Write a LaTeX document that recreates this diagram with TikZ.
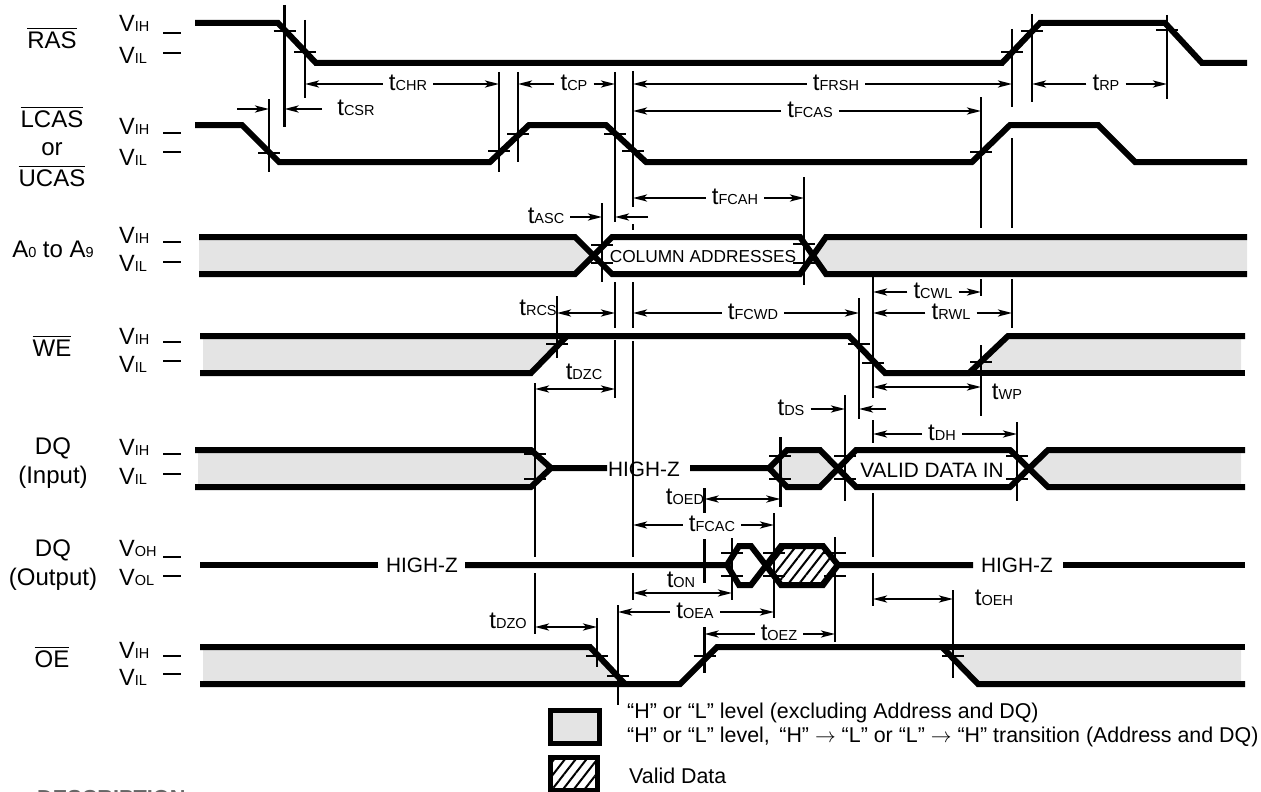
\documentclass[tikz,border=0pt]{standalone}
\usepackage{amsmath}
\usepackage{fontspec}
\setmainfont{Liberation Sans}
\usepackage{tikz}
\usetikzlibrary{arrows.meta,patterns.meta}
\definecolor{levelgray}{HTML}{E4E4E4}
\newcommand{\tmark}[2]{#1{\fontsize{14.5}{14.5}\selectfont #2}}
\newcommand{\barsig}[1]{$\overline{\mbox{#1}}$}

\begin{document}
\begin{tikzpicture}[
    x=1pt, y=-1pt,
    signal/.style={line width=6pt, miter limit=4},
    refline/.style={line width=2.7pt},
    reftick/.style={line width=2.5pt},
    leveldash/.style={line width=2.8pt},
    shade/.style={fill=levelgray, draw=none},
    hatched/.style={pattern={Lines[angle=52, distance=8.5pt, line width=2pt]}},
    sigline/.style={font=\fontsize{24}{29}\selectfont, inner sep=0pt, align=center},
    levellabel/.style={font=\fontsize{23.5}{24}\selectfont, inner sep=0pt, anchor=west},
    timelabel/.style={font=\fontsize{24}{24}\selectfont, inner xsep=6pt, inner ysep=1pt, text depth=3pt},
    statelabel/.style={font=\fontsize{20.8}{21}\selectfont, inner sep=0pt},
    legendtext/.style={font=\fontsize{21.4}{22}\selectfont, inner sep=0pt, anchor=west},
    timearrow/.style={line width=2.4pt, -{Stealth[length=14pt, width=7pt, inset=3.5pt]}},
    timeboth/.style={line width=2.4pt, {Stealth[length=14pt, width=7pt, inset=3.5pt]}-{Stealth[length=14pt, width=7pt, inset=3.5pt]}}
]
    \useasboundingbox (0,0) rectangle (1261,792);

    % edges the timing marks refer to
    \foreach \n/\x in {csr/269, rasA/284.5, rasB/305, casA/499, casB/518, dzc/535, rcs/557,
        dzo/597, asc/602, casC/615, oea/618, casD/633, oed/704.5, on/732, fcac/774, doe/780.4,
        fcah/804, oez/835, ds/845, fcwd/859, rwl/873, oeh/953, cwl/981, frsh/1012, dh/1017,
        rasC/1032, rp/1167}
        \coordinate (v\n) at (\x,0);

    % grey areas
    \fill[shade] (199,237) -- (575,237) -- (592,255) -- (575,274) -- (199,274) -- cycle;
    \fill[shade] (826,237) -- (807,255) -- (826,274) -- (1247,274) -- (1247,237) -- cycle;
    \fill[shade] (203,336) -- (567,336) -- (531,373) -- (203,373) -- cycle;
    \fill[shade] (1008,336) -- (1241,336) -- (1241,373) -- (969,373) -- cycle;
    \fill[shade] (198,450) -- (531,450) -- (551,468) -- (531,487) -- (198,487) -- cycle;
    \fill[shade] (787,450) -- (820,450) -- (836,468) -- (820,487) -- (787,487) -- (769,468) -- cycle;
    \fill[shade] (1048,450) -- (1241,450) -- (1241,487) -- (1048,487) -- (1029,468) -- cycle;
    \fill[shade] (203,647) -- (590,647) -- (625,684) -- (203,684) -- cycle;
    \fill[shade] (942,647) -- (1241,647) -- (1241,684) -- (978,684) -- cycle;
    \fill[hatched] (781,546) -- (823,546) -- (838,565) -- (823,585) -- (781,585) -- (766,565) -- cycle;

    % waveforms
    \draw[signal] (195,23) -- (278,23) -- (316,63) -- (1002,63) -- (1040,23) -- (1165,23) -- (1202,63) -- (1247,63);
    \draw[signal] (195,125) -- (242,125) -- (279,162) -- (490,162) -- (529,125) -- (606,125) -- (646,162)
        -- (972,162) -- (1010,125) -- (1098,125) -- (1135,162) -- (1247,162);
    \draw[signal] (199,237) -- (575,237) -- (612,274) -- (800,274) -- (826,237) -- (1247,237);
    \draw[signal] (199,274) -- (575,274) -- (612,237) -- (800,237) -- (826,274) -- (1247,274);
    \draw[signal] (200,373) -- (531,373) -- (567,336);
    \draw[signal] (200,336) -- (849,336) -- (885,373) -- (969,373) -- (1008,336) -- (1245,336);
    \draw[signal] (969,373) -- (1245,373);
    \draw[signal] (195,450) -- (531,450) -- (551,468) -- (607,468);
    \draw[signal] (195,487) -- (531,487) -- (551,468);
    \draw[signal] (690,468) -- (769,468) -- (787,450) -- (820,450) -- (856,487) -- (1010,487) -- (1048,450) -- (1245,450);
    \draw[signal] (769,468) -- (787,487) -- (820,487) -- (856,450) -- (1010,450) -- (1048,487) -- (1245,487);
    \draw[signal] (200,565) -- (378,565);
    \draw[signal] (465,565) -- (727,565) -- (739,546) -- (751,546) -- (781,585) -- (823,585) -- (838,565) -- (973,565);
    \draw[signal] (727,565) -- (739,585) -- (751,585) -- (781,546) -- (823,546) -- (838,565);
    \draw[signal] (1063,565) -- (1245,565);
    \draw[signal] (200,684) -- (680,684) -- (717,647) -- (942,647) -- (978,684) -- (1245,684);
    \draw[signal] (200,647) -- (590,647) -- (625,684);
    \draw[signal] (942,647) -- (1245,647);

    % reference lines, split where they pass behind a row
    \foreach \n/\a/\b in {rasA/5/127, rasB/20/98, csr/99/172, casA/72/172, casB/72/162, casC/72/222,
        casC/282/328, casC/340/398, casD/71/207, casD/224/230, casD/282/328, casD/341/557, casD/573/600,
        asc/203/282, fcah/177/285, cwl/97/228, cwl/279/296, cwl/345/416, frsh/29/107, frsh/138/228,
        frsh/279/328, rasC/14/102, rp/15/99, rcs/296/358, dzc/383/557, dzc/573/634, fcwd/298/419,
        rwl/277/398, rwl/420/443, rwl/493/557, rwl/573/606, ds/395/501, dh/422/501, doe/437/507,
        oed/488/513, oed/539/583, oed/627/673, fcac/513/618, on/538/600, oez/537/642, dzo/618/667,
        oea/605/705, oeh/590/678}
        \draw[refline] (v\n |- 0,\a) -- (v\n |- 0,\b);

    % crossing marks
    \foreach \n/\y in {csr/153, rasA/31, rasB/52, casA/151, casB/134, casC/134, casD/151, asc/245, asc/263,
        fcah/244, fcah/263, cwl/152, cwl/362, frsh/52, rasC/31, rp/30, rcs/344, fcwd/344, rwl/363,
        dzc/454, dzc/479, doe/456, doe/479, ds/456, ds/479, dh/456, dh/479, on/553, on/576,
        fcac/553, fcac/576, oez/553, oez/576, dzo/656, oea/676, oed/656, oeh/656}
        \draw[reftick] (v\n |- 0,\y) ++(-11,0) -- ++(22,0);

    % signal names
    \node[sigline] (ras) at (52,38) {\barsig{RAS}};
    \node[sigline] (lcas) at (52,117) {\barsig{LCAS}};
    \node[sigline] (orlab) at (52,149) {or};
    \node[sigline] (ucas) at (52,176) {\barsig{UCAS}};
    \node[sigline] (addr) at (53,249) {\tmark{A}{0} to \tmark{A}{9}};
    \node[sigline] (we) at (52,346) {\barsig{WE}};
    \node[sigline] (din) at (53,463) {DQ\\(Input)};
    \node[sigline] (dout) at (53,565) {DQ\\(Output)};
    \node[sigline] (oe) at (52,657) {\barsig{OE}};

    % levels
    \foreach \r/\yh/\yl/\dh/\dl in {ras/23/55/33/53, cas/126/157/133/152, adr/235/263/242/262,
        wen/336/364/342/361, din/447/476/454/474, oen/650/677/656/674}{
        \node[levellabel] (\r H) at (119,\yh) {\tmark{V}{IH}};
        \node[levellabel] (\r L) at (119,\yl) {\tmark{V}{IL}};
        \draw[leveldash] (163,\dh) -- (181,\dh);
        \draw[leveldash] (163,\dl) -- (181,\dl);
    }
    \node[levellabel] (outH) at (119,548) {\tmark{V}{OH}};
    \node[levellabel] (outL) at (119,577) {\tmark{V}{OL}};
    \draw[leveldash] (163,557) -- (181,557);
    \draw[leveldash] (163,576) -- (181,576);

    % texts inside the rows
    \node[statelabel, font=\fontsize{17.3}{18}\selectfont] (coladdr) at (703,257) {COLUMN ADDRESSES};
    \node[statelabel] (hzin) at (644,469) {HIGH-Z};
    \node[statelabel] (vdin) at (932,470) {VALID DATA IN};
    \node[statelabel] (hzouta) at (422,565) {HIGH-Z};
    \node[statelabel] (hzoutb) at (1017,565) {HIGH-Z};

    % timing labels with the line broken round them
    \node[timelabel] (tchr) at (408,84) {\tmark{t}{CHR}};
    \node[timelabel] (tcp) at (574,84) {\tmark{t}{CP}};
    \node[timelabel] (tfrsh) at (836,84) {\tmark{t}{FRSH}};
    \node[timelabel] (trp) at (1106,84) {\tmark{t}{RP}};
    \node[timelabel] (tfcas) at (810,111) {\tmark{t}{FCAS}};
    \node[timelabel] (tfcah) at (735,198) {\tmark{t}{FCAH}};
    \node[timelabel] (tcwl) at (933,292) {\tmark{t}{CWL}};
    \node[timelabel] (tfcwd) at (753,313) {\tmark{t}{FCWD}};
    \node[timelabel] (trwl) at (951,313) {\tmark{t}{RWL}};
    \node[timelabel] (tdh) at (942,434) {\tmark{t}{DH}};
    \node[timelabel] (tfcac) at (712,525) {\tmark{t}{FCAC}};
    \node[timelabel] (toea) at (695,612) {\tmark{t}{OEA}};
    \node[timelabel] (toez) at (779,634) {\tmark{t}{OEZ}};

    \foreach \n/\a/\b in {tchr/rasB/casA, tcp/casB/casC, tfrsh/casD/frsh, trp/rasC/rp, tfcas/casD/cwl,
        tfcah/casD/fcah, tcwl/rwl/cwl, tfcwd/casD/fcwd, trwl/rwl/frsh, tdh/rwl/dh, tfcac/casD/fcac,
        toea/oea/fcac, toez/oed/oez}{
        \draw[timearrow] (\n) -- (\n -| v\a);
        \draw[timearrow] (\n) -- (\n -| v\b);
    }

    % timing labels set beside their arrows
    \node[timelabel] (tcsr) at (356,109) {\tmark{t}{CSR}};
    \node[timelabel] (tasc) at (546,217) {\tmark{t}{ASC}};
    \node[timelabel] (trcs) at (538,309) {\tmark{t}{RCS}};
    \node[timelabel] (tdzc) at (584,373) {\tmark{t}{DZC}};
    \node[timelabel] (twp) at (1007,393) {\tmark{t}{WP}};
    \node[timelabel] (tds) at (791,409) {\tmark{t}{DS}};
    \node[timelabel] (toed) at (685,498) {\tmark{t}{OED}};
    \node[timelabel] (ton) at (681,581) {\tmark{t}{ON}};
    \node[timelabel] (toeh) at (994,599) {\tmark{t}{OEH}};
    \node[timelabel] (tdzo) at (508,622) {\tmark{t}{DZO}};

    \coordinate (csrL) at (237,109);
    \coordinate (csrR) at (322,109);
    \coordinate (ascR) at (648,217);
    \coordinate (dsR) at (886,409);
    \draw[timearrow] (csrL) -- (csrL -| vcsr);
    \draw[timearrow] (csrR) -- (csrR -| vrasA);
    \draw[timearrow] (tasc) -- (tasc -| vasc);
    \draw[timearrow] (ascR) -- (ascR -| vcasC);
    \draw[timearrow] (tds) -- (tds -| vds);
    \draw[timearrow] (dsR) -- (dsR -| vfcwd);

    \foreach \a/\b/\y in {rcs/casC/313, dzc/casC/389, rwl/cwl/387, oed/doe/499, casD/on/593,
        dzc/dzo/627, rwl/oeh/599}
        \draw[timeboth] (v\a |- 0,\y) -- (v\b |- 0,\y);

    % legend
    \draw[line width=5pt, fill=levelgray] (550.5,710.5) rectangle (599.5,743);
    \draw[line width=5pt, hatched] (550.5,757.5) rectangle (597.5,790);
    \node[legendtext] (lega) at (627,713) {“H” or “L” level (excluding Address and DQ)};
    \node[legendtext] (legb) at (627,737) {“H” or “L” level,\, “H” $\rightarrow$ “L” or “L” $\rightarrow$ “H” transition (Address and DQ)};
    \node[legendtext] (legc) at (629,776) {Valid Data};
    \node[font=\fontsize{21.7}{22}\bfseries\selectfont, inner sep=0pt, anchor=north west, text=black!60] (descr) at (37,790.6) {DESCRIPTION};
\end{tikzpicture}
\end{document}
